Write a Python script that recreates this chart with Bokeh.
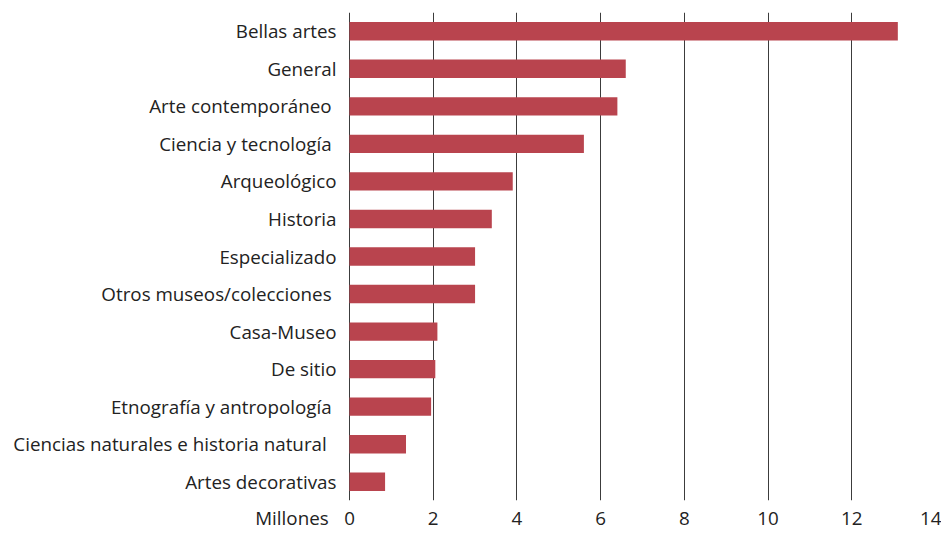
from bokeh.plotting import figure
from bokeh.models import Range1d, FactorRange, FixedTicker, ColumnDataSource
from bokeh.core.properties import value
from bokeh.embed import file_html
from bokeh.resources import INLINE

NB = "\u00a0"
categories = [
    "Bellas artes",
    "General",
    "Arte contemporáneo" + NB,
    "Ciencia y tecnología" + NB,
    "Arqueológico",
    "Historia",
    "Especializado",
    "Otros museos/colecciones" + NB,
    "Casa-Museo",
    "De sitio",
    "Etnografía y antropología" + NB,
    "Ciencias naturales e historia natural" + NB + NB,
    "Artes decorativas",
]
values = [13.1, 6.6, 6.4, 5.6, 3.9, 3.4, 3.0, 3.0, 2.1, 2.05, 1.95, 1.35, 0.85]
x_ticks = [0, 2, 4, 6, 8, 10, 12, 14]
unit_label = "Millones"

FONT = "Open Sans"
FSIZE = "18.8px"
TEXT = "#222222"

# layout: value axis 0..14 spans page pixels 349..935; frame extends left to 0
W, H = 941, 533
AX0, AX1 = 349, 935
XMAX = 14
x_min = -XMAX * AX0 / (AX1 - AX0)
unit_pos = -1.375  # where the "Millones" label is centred (left of the 0 label)

source = ColumnDataSource(dict(cat=categories, val=values, zero=[0] * len(values)))

p = figure(
    width=W, height=H,
    y_range=FactorRange(factors=list(reversed(categories)), range_padding=0),
    x_range=Range1d(x_min, XMAX),
    y_axis_location=None,
    output_backend="svg", toolbar_location=None,
    min_border_left=0, min_border_right=W - AX1, min_border_top=12, min_border_bottom=33,
)
p.outline_line_color = None
p.background_fill_color = "white"
p.border_fill_color = "white"

p.xgrid.ticker = FixedTicker(ticks=x_ticks)
p.xgrid.grid_line_color = "#3c3c3c"
p.xgrid.grid_line_width = 1
p.ygrid.grid_line_color = None

p.hbar(y="cat", right="val", left=0, height=0.49, source=source,
       fill_color="#B9444E", line_color=None)

p.text(x="zero", y="cat", text="cat", source=source, x_offset=-13,
       text_align="right", text_baseline="middle",
       text_font=value(FONT), text_font_size=value(FSIZE), text_color=TEXT)

p.xaxis.ticker = FixedTicker(ticks=[unit_pos] + x_ticks)
p.xaxis.major_label_overrides = {unit_pos: unit_label}
p.xaxis.axis_line_color = None
p.xaxis.major_tick_line_color = None
p.xaxis.minor_tick_line_color = None
p.xaxis.major_tick_out = 0
p.xaxis.major_tick_in = 0
p.xaxis.minor_tick_out = 0
p.xaxis.major_label_standoff = 4
p.xaxis.major_label_text_font = FONT
p.xaxis.major_label_text_font_size = FSIZE
p.xaxis.major_label_text_color = TEXT

open("out.html", "w").write(file_html(p, INLINE))
